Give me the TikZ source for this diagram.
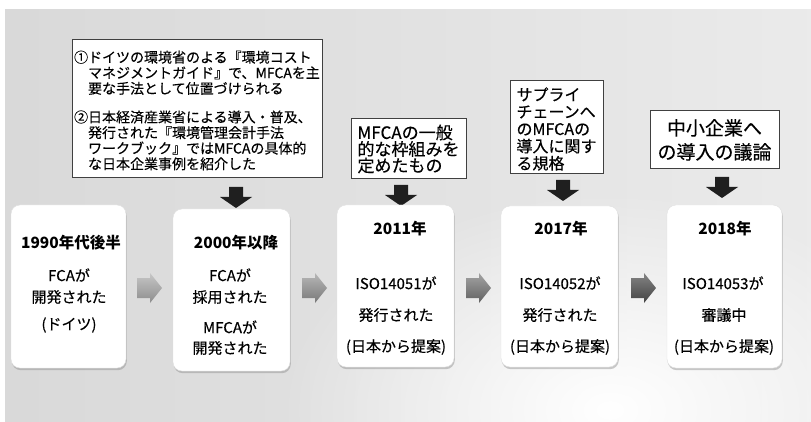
\documentclass[tikz,border=0pt]{standalone}
\usepackage{fontspec}
\setmainfont{Noto Sans CJK JP}
\newfontfamily\medfont{Noto Sans CJK JP}[FakeBold=0.3]
\usetikzlibrary{shadows,fadings}
\tikzfading[name=myglow, inner color=transparent!0, outer color=transparent!100]
\colorlet{arTa}{black!22}\colorlet{arBa}{black!45}
\colorlet{arTb}{black!28}\colorlet{arBb}{black!53}
\colorlet{arTc}{black!36}\colorlet{arBc}{black!62}
\colorlet{arTd}{black!48}\colorlet{arBd}{black!74}
\begin{document}
\begin{tikzpicture}[x=1pt,y=-1pt,
  callout/.style={draw=black!75, line width=0.8pt, fill=white, inner sep=0pt},
  ctext/.style={inner sep=0pt, align=left},
  tbox/.style={rounded corners=9pt, fill=white, draw=black!12, line width=0.4pt,
    drop shadow={shadow xshift=0.8pt, shadow yshift=-2.2pt, opacity=0.45, fill=black!45}, inner sep=0pt},
  year/.style={font=\bfseries\fontsize{15.5}{18}\selectfont, inner sep=0pt},
  body/.style={font=\medfont\fontsize{15}{18}\selectfont, inner sep=0pt},
  darr/.pic={\fill[black!88] (-7,0) -- (7,0) -- (7,10) -- (16,10) -- (0,21) -- (-16,10) -- (-7,10) -- cycle;},
  rarr/.pic={\shade[top color=arT#1, bottom color=arB#1] (0,-10) -- (13,-10) -- (13,-15) -- (25,0) -- (13,15) -- (13,10) -- (0,10) -- cycle;}
]
\useasboundingbox (0,0) rectangle (811,422);
% background
\begin{scope}
  \clip (5,10) rectangle (811,421);
  \shade[left color=black!15, right color=black!8] (5,10) rectangle (811,421);
  \fill[white, path fading=myglow] (610,410) ellipse (330 and 220);
\end{scope}

% callouts
\node[callout, minimum width=250pt, minimum height=138pt] (A) at (197,108) {};
\node[ctext, font=\medfont\fontsize{14}{15.6}\selectfont] (Atext) at (197,110.5)
{①ドイツの環境省のよる『環境コスト\\
\phantom{①}マネジメントガイド』で、MFCAを主\\
\phantom{①}要な手法として位置づけられる\\[13pt]
②日本経済産業省による導入・普及、\\
\phantom{①}発行された『環境管理会計手法\\
\phantom{①}ワークブック』ではMFCAの具体的\\
\phantom{①}な日本企業事例を紹介した};
\node[callout, minimum width=115pt, minimum height=60pt] (B) at (408.5,148) {};
\node[ctext, font=\medfont\fontsize{17}{16.5}\selectfont] (Btext) at (408.5,149)
{MFCAの一般\\的な枠組みを\\定めたもの};
\node[callout, minimum width=93pt, minimum height=93pt] (C) at (556.5,126.5) {};
\node[ctext, font=\medfont\fontsize{16}{17.2}\selectfont] (Ctext) at (556.5,129)
{サプライ\\チェーンへ\\のMFCAの\\導入に関す\\る規格};
\node[callout, minimum width=129pt, minimum height=58pt] (D) at (714.5,139) {};
\node[ctext, align=center, font=\medfont\fontsize{19}{24}\selectfont] (Dtext) at (714.5,140)
{中小企業へ\\の導入の議論};

% down arrows
\pic (dA) at (236,187) {darr};
\pic (dB) at (401,185) {darr};
\pic (dC) at (563,180) {darr};
\pic (dD) at (722,177) {darr};

% timeline boxes
\node[tbox, minimum width=115pt, minimum height=163pt] (b1) at (68.5,286.5) {};
\node[tbox, minimum width=117pt, minimum height=162pt] (b2) at (231.5,290) {};
\node[tbox, minimum width=117pt, minimum height=162pt] (b3) at (395.5,286) {};
\node[tbox, minimum width=117pt, minimum height=161pt] (b4) at (559.5,286.5) {};
\node[tbox, minimum width=115pt, minimum height=163pt] (b5) at (724.5,286.5) {};

% right arrows
\pic (r1) at (137,288) {rarr=a};
\pic (r2) at (302,288) {rarr=b};
\pic (r3) at (466,288) {rarr=c};
\pic (r4) at (631,288) {rarr=d};

% texts box 1
\node[year] (y1) at (71,243) {1990年代後半};
\node[body] (t1a) at (69,275) {FCAが};
\node[body] (t1b) at (69,297) {開発された};
\node[body] (t1c) at (69,325) {(ドイツ)};
% box 2
\node[year] (y2) at (236,243) {2000年以降};
\node[body] (t2a) at (230,275) {FCAが};
\node[body] (t2b) at (230,297) {採用された};
\node[body] (t2c) at (230,327) {MFCAが};
\node[body] (t2d) at (230,348) {開発された};
% box 3
\node[year] (y3) at (400,229) {2011年};
\node[body] (t3a) at (396,283) {ISO14051が};
\node[body] (t3b) at (396,315) {発行された};
\node[body] (t3c) at (396,347) {(日本から提案)};
% box 4
\node[year] (y4) at (561,229) {2017年};
\node[body] (t4a) at (560,283) {ISO14052が};
\node[body] (t4b) at (560,315) {発行された};
\node[body] (t4c) at (560,347) {(日本から提案)};
% box 5
\node[year] (y5) at (725,229) {2018年};
\node[body] (t5a) at (723,283) {ISO14053が};
\node[body] (t5b) at (724,315) {審議中};
\node[body] (t5c) at (724,347) {(日本から提案)};
\end{tikzpicture}
\end{document}
